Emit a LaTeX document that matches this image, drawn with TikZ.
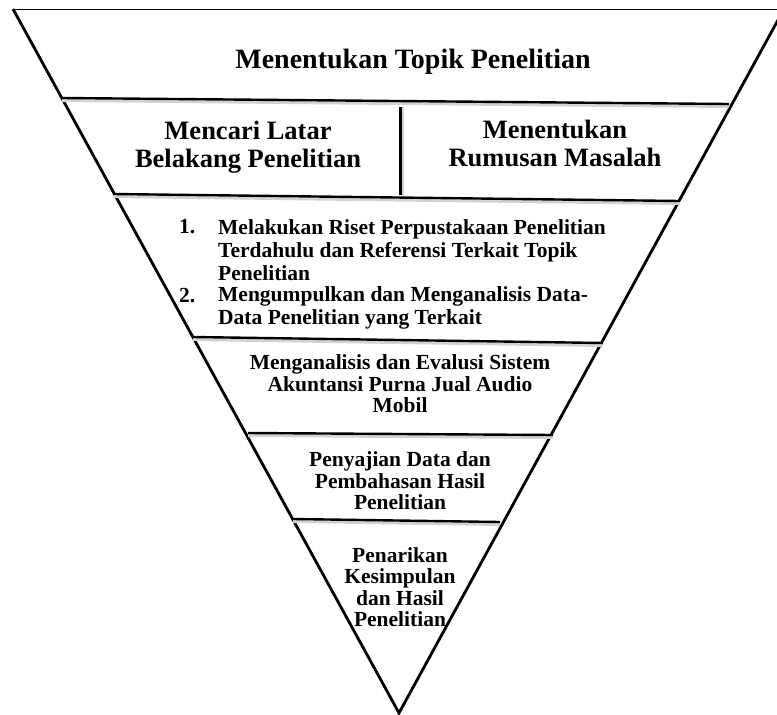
\documentclass[tikz,border=0pt]{standalone}
\usepackage{fontspec}
\setmainfont{Liberation Serif}
\usetikzlibrary{positioning}

\begin{document}
\begin{tikzpicture}[x=1pt, y=-1pt,
  divider/.style={line width=2.4pt},
  shade/.style={line width=3pt, gray!35},
  head/.style={align=center, inner sep=0pt, font=\bfseries\fontsize{26.5}{28}\selectfont},
  stage/.style={align=center, inner sep=0pt, font=\bfseries\fontsize{21.5}{21.5}\selectfont},
  item/.style={align=left, anchor=west, inner sep=0pt, font=\bfseries\fontsize{21.5}{23}\selectfont}]

\useasboundingbox (0,0) rectangle (777,715);
\clip (0,0) rectangle (777,715);

% Funnel outline, right corner runs off the page
\coordinate (tl) at (13,9);
\coordinate (tr) at (784,9);
\coordinate (tip) at (399,713);
\draw[line width=1pt] (tl) -- (tr);
\draw[line width=2.8pt, line join=miter] (tr) -- (tip) -- (tl);

% Dividers between the stages (slightly tilted, with a soft shadow)
\foreach \xa/\ya/\xb/\yb in {62/98/729/104, 113/194/680/201, 193/337/603/343,
                             248/433/553/435, 293/519/500/522}{
  \draw[shade] (\xa,\ya+2.5) -- (\xb,\yb+2.5);
  \draw[divider] (\xa,\ya) -- (\xb,\yb);
}
\draw[shade] (402.5,107) -- (402.5,195);
\draw[line width=3pt] (400,107) -- (400,195);

% Stage texts, widest at top
\node[head, font=\bfseries\fontsize{28}{30}\selectfont] (topic) at (413,62) {Menentukan Topik Penelitian};
\node[head] (background) at (248,147) {Mencari Latar\\Belakang Penelitian};
\node[head] (problem) at (555,143) {Menentukan\\Rumusan Masalah};

\node[item] (num1) at (179,227) {1.};
\node[item] (study) at (218,250) {Melakukan Riset Perpustakaan Penelitian\\Terdahulu dan Referensi Terkait Topik\\Penelitian};
\node[item] (num2) at (179,296) {2.};
\node[item] (collect) at (218,307.5) {Mengumpulkan dan Menganalisis Data-\\Data Penelitian yang Terkait};

\node[stage] (analysis) at (400,384) {Menganalisis dan Evalusi Sistem\\Akuntansi Purna Jual Audio\\Mobil};
\node[stage] (report) at (400,481) {Penyajian Data dan\\Pembahasan Hasil\\Penelitian};
\node[stage] (conclusion) at (400,587) {Penarikan\\Kesimpulan\\dan Hasil\\Penelitian};

\end{tikzpicture}
\end{document}
